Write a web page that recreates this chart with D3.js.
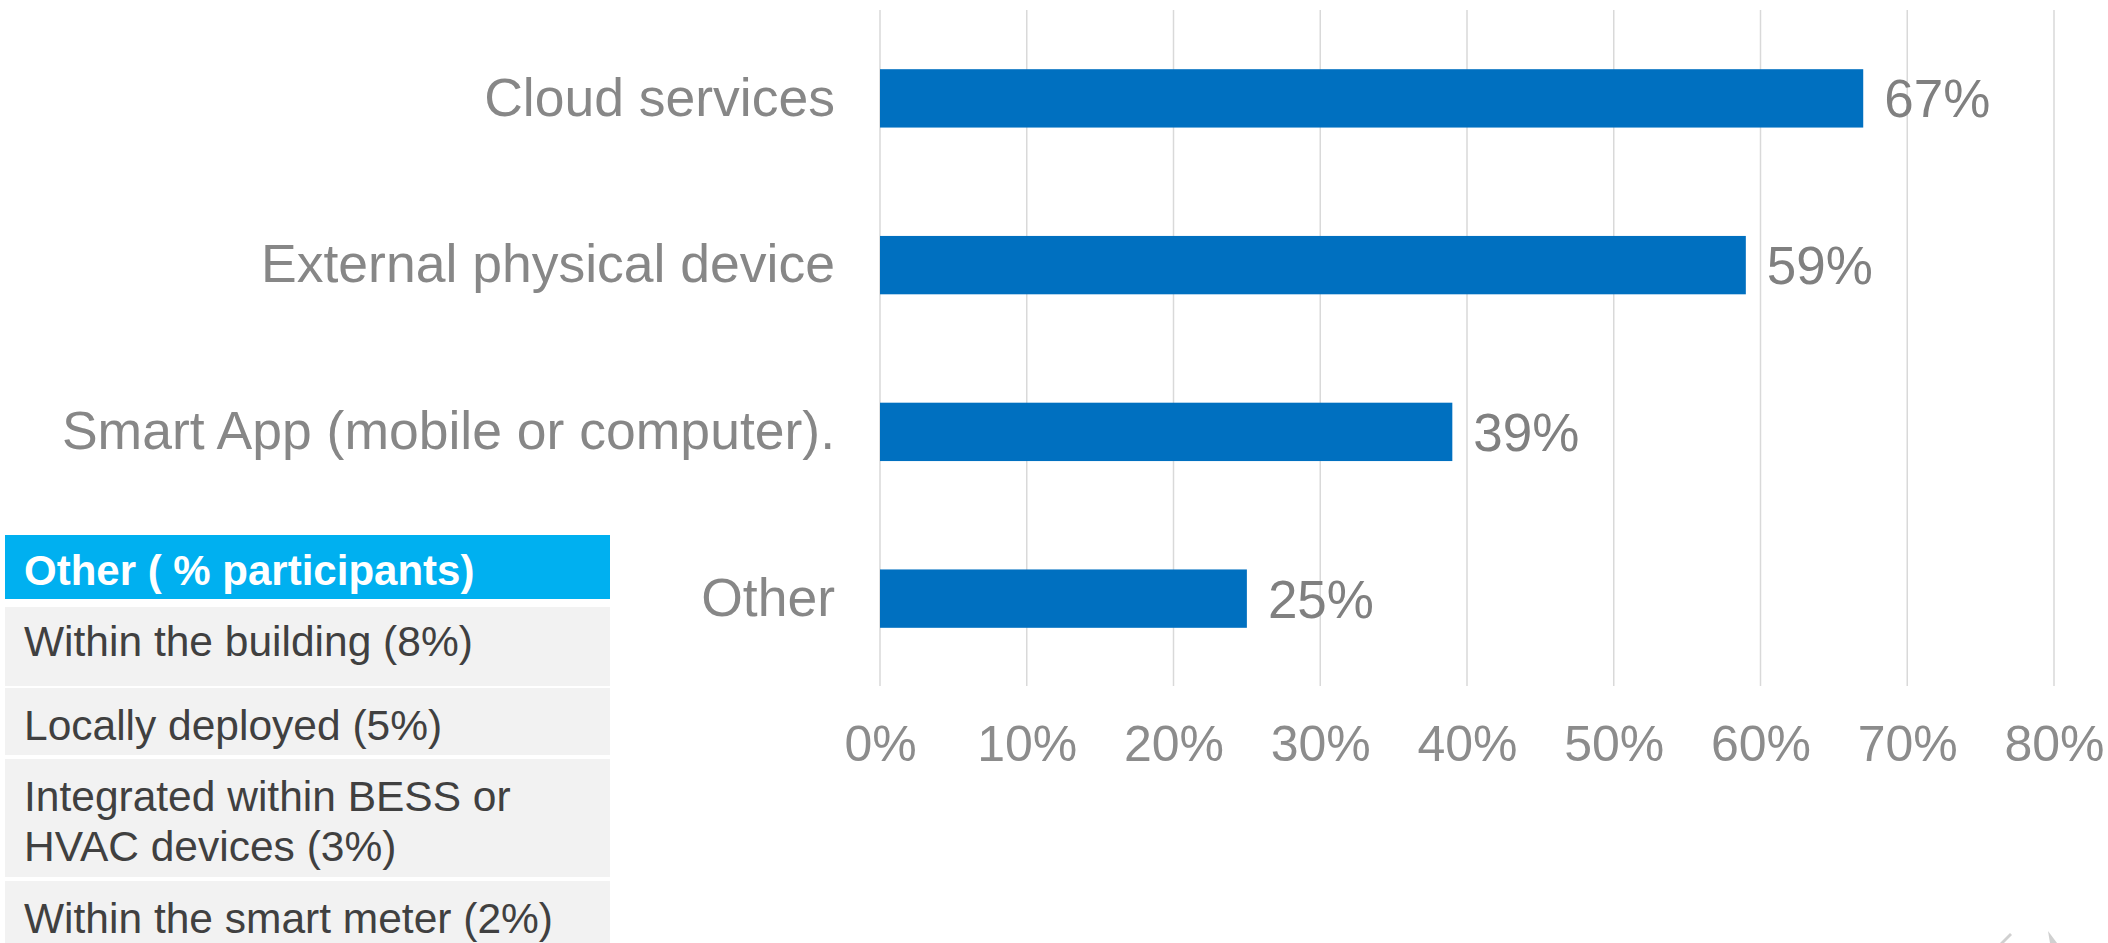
<!DOCTYPE html>
<html>
<head>
<meta charset="utf-8">
<script src="https://cdn.jsdelivr.net/npm/d3@7"></script>
<style>
  html, body { margin: 0; padding: 0; background: #ffffff; }
  svg { display: block; font-family: "Liberation Sans", Arial, sans-serif; }
</style>
</head>
<body>
<svg id="chart" width="2108" height="943"></svg>
<script>
// Where the data is processed (% of participants)
const categories = ["Cloud services", "External physical device", "Smart App (mobile or computer).", "Other"];
const shares = [0.67, 0.59, 0.39, 0.25];
const tickValues = [0, 0.1, 0.2, 0.3, 0.4, 0.5, 0.6, 0.7, 0.8];

// Breakdown of the "Other" answers
const otherTitle = "Other ( % participants)";
const otherItems = [
  ["Within the building (8%)"],
  ["Locally deployed (5%)"],
  ["Integrated within BESS or", "HVAC devices (3%)"],
  ["Within the smart meter (2%)"]
];

const svg = d3.select("#chart");

const x = d3.scaleLinear().domain([0, 0.8]).range([880, 2054]);
const y = d3.scaleBand().domain(categories).range([15, 682]).paddingInner(0.65).paddingOuter(0.325);

const fmt = d3.format(".0%");

// vertical gridlines
svg.append("g")
  .selectAll("line")
  .data(tickValues)
  .join("line")
  .attr("x1", d => x(d)).attr("x2", d => x(d))
  .attr("y1", 10).attr("y2", 686)
  .attr("stroke", "#d9d9d9")
  .attr("stroke-width", 1.5);

// x axis tick labels
const xAxis = d3.axisBottom(x).tickValues(tickValues).tickFormat(fmt).tickSize(0).tickPadding(0);
const gx = svg.append("g").attr("transform", "translate(0,725)").call(xAxis);
gx.select(".domain").remove();
gx.selectAll("text")
  .attr("dy", "0.71em")
  .attr("font-size", 50)
  .attr("font-family", "Liberation Sans, Arial, sans-serif")
  .attr("fill", "#8c8c8c");

// bars
svg.append("g")
  .selectAll("rect")
  .data(categories)
  .join("rect")
  .attr("x", x(0))
  .attr("y", d => y(d))
  .attr("width", (d, i) => x(shares[i]) - x(0))
  .attr("height", y.bandwidth())
  .attr("fill", "#0070c0");

// value labels
svg.append("g")
  .selectAll("text")
  .data(categories)
  .join("text")
  .attr("x", (d, i) => x(shares[i]) + 21)
  .attr("y", d => y(d) + y.bandwidth() / 2)
  .attr("dy", "0.36em")
  .attr("font-size", 53)
  .attr("fill", "#808080")
  .text((d, i) => fmt(shares[i]));

// category labels
const yAxis = d3.axisLeft(y).tickSize(0).tickPadding(45);
const gy = svg.append("g").attr("transform", `translate(${x(0)},0)`).call(yAxis);
gy.select(".domain").remove();
gy.selectAll("text")
  .attr("font-size", 53.5)
  .attr("font-family", "Liberation Sans, Arial, sans-serif")
  .attr("fill", "#878787");

// "Other" breakdown table
const table = svg.append("g");
const tableX = 5, tableW = 605, textX = 24;
table.append("rect")
  .attr("x", tableX).attr("y", 535).attr("width", tableW).attr("height", 64)
  .attr("fill", "#00b0f0");
table.append("text")
  .attr("x", textX).attr("y", 585)
  .attr("font-size", 42).attr("font-weight", "bold")
  .attr("fill", "#ffffff")
  .text(otherTitle);

// row boxes: top, height and first baseline offset
const rowLayout = [
  { top: 607, h: 79, base: 49 },
  { top: 688, h: 67, base: 52 },
  { top: 759, h: 118, base: 52 },
  { top: 881, h: 80, base: 52 }
];
const lineH = 50;
otherItems.forEach((lines, i) => {
  const r = rowLayout[i];
  table.append("rect")
    .attr("x", tableX).attr("y", r.top).attr("width", tableW).attr("height", r.h)
    .attr("fill", "#f2f2f2");
  const t = table.append("text")
    .attr("font-size", 42.5)
    .attr("fill", "#404040");
  lines.forEach((ln, j) => {
    t.append("tspan")
      .attr("x", textX)
      .attr("y", r.top + r.base + j * lineH)
      .text(ln);
  });
});

// faint corner marks
const marks = svg.append("g").attr("fill", "#d0d0d0");
marks.append("path").attr("d", "M2000,943 L2010,933 L2012,935 L2004,943 Z");
marks.append("path").attr("d", "M2048,931 L2057,943 L2050,943 Z");
</script>
</body>
</html>
